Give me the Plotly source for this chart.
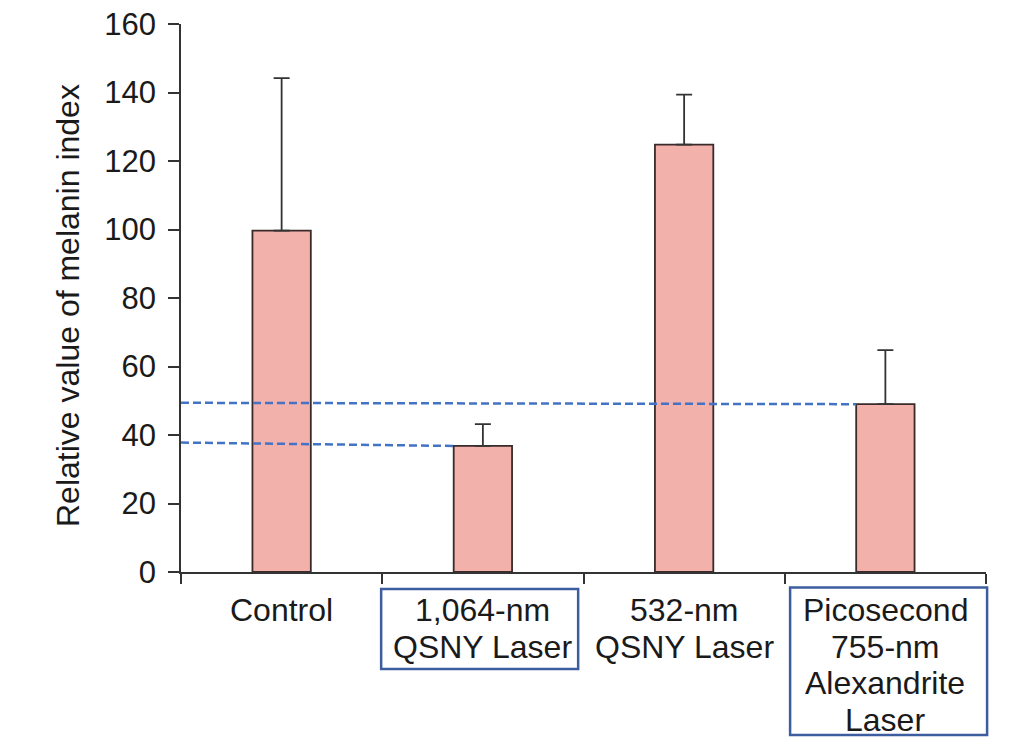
import plotly.graph_objects as go

categories = ["Control", "1,064-nm QSNY Laser", "532-nm QSNY Laser", "Picosecond 755-nm Alexandrite Laser"]
label_lines = [["Control"], ["1,064-nm", "QSNY Laser"], ["532-nm", "QSNY Laser"],
               ["Picosecond", "755-nm", "Alexandrite", "Laser"]]
boxed = [False, True, False, True]
values = [99.7, 36.8, 124.8, 49.0]
err_plus = [44.5, 6.4, 14.6, 15.8]
y_ticks = [0, 20, 40, 60, 80, 100, 120, 140, 160]
# dashed guide lines: start level at y-axis, and the bar they lead to
guide_start = [37.8, 49.4]
guide_bar = [1, 3]

FONT = "Liberation Sans, Arial, sans-serif"
BAR_W = 0.29
PLOT_H = 548.0
PLOT_W = 805.0
LINE_GAP = 36.5
FIRST_LINE = 38

fig = go.Figure()
fig.add_trace(go.Bar(
    x=list(range(len(categories))), y=values, width=BAR_W,
    marker=dict(color="#F3B1AC", line=dict(color="#3a2a2a", width=1.8)),
    error_y=dict(type="data", symmetric=False, array=err_plus, arrayminus=[0]*len(values),
                 color="#333333", thickness=1.8, width=8),
))

for ys, bi in zip(guide_start, guide_bar):
    fig.add_shape(type="line", xref="x", yref="y", x0=-0.5, x1=bi - BAR_W/2,
                  y0=ys, y1=values[bi], line=dict(color="#4472C4", width=2.5, dash="8px,4px"))

box_px = {1: (17, 97, -0.004), 3: (15.5, 163, 0.004)}  # top, bottom offsets below axis; x nudge
for i, (lines, bx) in enumerate(zip(label_lines, boxed)):
    for j, ln in enumerate(lines):
        fig.add_annotation(x=i, xref="x", y=0, yref="paper", yanchor="middle", xanchor="center",
                           yshift=-(FIRST_LINE + j * LINE_GAP), text=ln, showarrow=False,
                           font=dict(family=FONT, size=32, color="#1a1a1a"))
    if bx:
        top_px, bot_px, nudge = box_px[i]
        half_w = 98.5
        cx = (i + 0.5) / 4.0 + nudge
        fig.add_shape(type="rect", xref="paper", yref="paper",
                      x0=cx - half_w / PLOT_W, x1=cx + half_w / PLOT_W,
                      y0=-top_px / PLOT_H, y1=-bot_px / PLOT_H,
                      line=dict(color="#3D5E9E", width=2.5))

fig.add_annotation(x=0, xref="paper", xshift=-113, y=0.4854, yref="paper",
                   text="Relative value of melanin index", textangle=-90, showarrow=False,
                   xanchor="center", yanchor="middle",
                   font=dict(family=FONT, size=32, color="#1a1a1a"))

fig.update_layout(
    width=1024, height=747,
    margin=dict(l=173, r=46, t=16, b=183, autoexpand=False),
    plot_bgcolor="white", paper_bgcolor="white",
    showlegend=False,
    xaxis=dict(range=[-0.5, 3.5], tickvals=[-0.5, 0.5, 1.5, 2.5, 3.5], ticktext=[""]*5,
               showgrid=False, zeroline=False, showline=True, linecolor="#333333", linewidth=1.8,
               ticks="outside", ticklen=10, tickwidth=1.8, tickcolor="#333333", automargin=False),
    yaxis=dict(range=[0, 160], tickvals=y_ticks, showgrid=False, zeroline=False,
               showline=True, linecolor="#333333", linewidth=1.8,
               ticks="outside", ticklen=11, tickwidth=1.8, tickcolor="#333333",
               ticklabelstandoff=6, automargin=False, ticklabeloverflow="allow",
               tickfont=dict(family=FONT, size=31, color="#1a1a1a")),
)

fig.write_html("out.html")
